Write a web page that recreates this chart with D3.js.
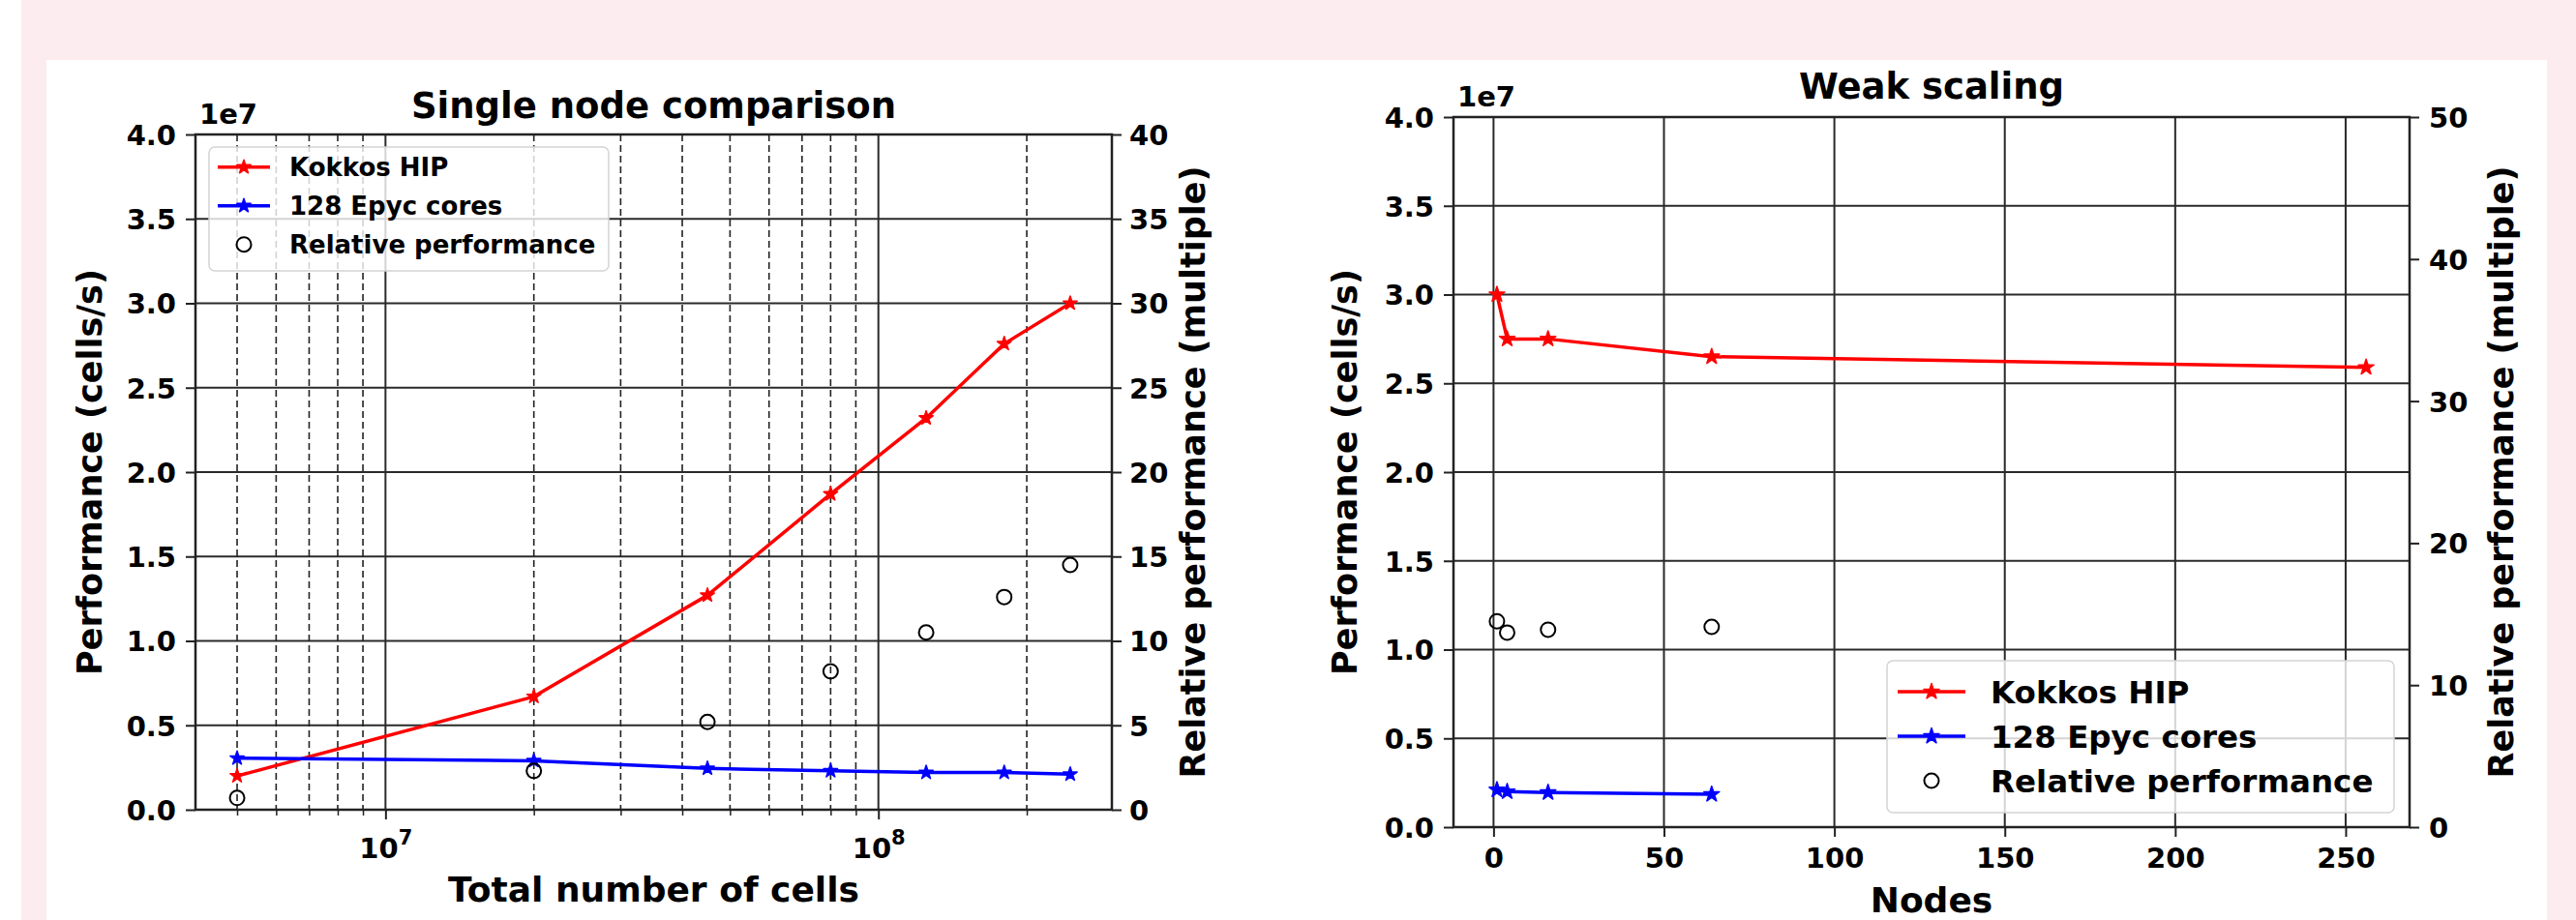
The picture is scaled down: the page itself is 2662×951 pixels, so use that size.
<!DOCTYPE html>
<html>
<head>
<meta charset="utf-8">
<title></title>
<script src="https://cdn.jsdelivr.net/npm/d3@7"></script>
<style>
body { margin: 0; background: #fcecef; }
svg { display: block; }
</style>
</head>
<body>
<script>
// single node comparison
var cells = [5e6, 2e7, 4.5e7, 8e7, 1.25e8, 1.8e8, 2.45e8];
var cellsHip = [2.0e6, 6.7e6, 1.27e7, 1.87e7, 2.32e7, 2.76e7, 3.0e7];
var cellsEpyc = [3.05e6, 2.9e6, 2.45e6, 2.3e6, 2.2e6, 2.2e6, 2.1e6];
var cellsRel = [0.7, 2.3, 5.2, 8.2, 10.5, 12.6, 14.5];

// weak scaling
var nodes = [1, 4, 16, 64, 256];
var nodesHip = [3.0e7, 2.75e7, 2.75e7, 2.65e7, 2.59e7];
var epycNodes = [1, 4, 16, 64];
var nodesEpyc = [2.1e6, 2.0e6, 1.95e6, 1.85e6];
var nodesRel = [14.5, 13.7, 13.9, 14.1];

// ticks
var perfTicks = [0, 0.5e7, 1e7, 1.5e7, 2e7, 2.5e7, 3e7, 3.5e7, 4e7];
var relTicksA = [0, 5, 10, 15, 20, 25, 30, 35, 40];
var relTicksB = [0, 10, 20, 30, 40, 50];
var nodeTicks = [0, 50, 100, 150, 200, 250];
var cellMajor = [1e7, 1e8];
var cellMinor = [2, 3, 4, 5, 6, 7, 8, 9].map(function(m) { return [m * 1e6, m * 1e7, m * 1e8]; }).flat();

var legendLabels = ['Kokkos HIP', '128 Epyc cores', 'Relative performance'];

var W = 2662, H = 951;
var FONT = 'DejaVu Sans';

var svg = d3.select('body').append('svg')
	.attr('width', W).attr('height', H)
	.attr('font-family', FONT).attr('font-weight', 'bold');

svg.append('rect').attr('width', W).attr('height', H).attr('fill', '#fcecef');
svg.append('rect').attr('width', 22).attr('height', H).attr('fill', '#ffffff');
svg.append('rect').attr('x', 48).attr('y', 62).attr('width', 2632 - 48).attr('height', H - 62).attr('fill', '#ffffff');

function zip(a, b) { return a.map(function(d, i) { return [d, b[i]]; }); }

function styleAxis(sel, size) {
	sel.attr('font-family', FONT).attr('font-size', size).attr('font-weight', 'bold');
	sel.select('.domain').remove();
	sel.selectAll('.tick line').attr('stroke', '#222').attr('stroke-width', 2);
	sel.selectAll('.tick text').attr('fill', '#000');
}

function panel(c) {
	var g = svg.append('g');
	var x = c.x, y = c.y, yR = c.yR;
	var x0 = x.range()[0], x1 = x.range()[1], yb = y.range()[0], yt = y.range()[1];

	// grid
	g.selectAll(null).data(perfTicks).enter().append('line')
		.attr('x1', x0).attr('x2', x1)
		.attr('y1', function(d) { return y(d); }).attr('y2', function(d) { return y(d); })
		.attr('stroke', '#2a2a2a').attr('stroke-width', 2);
	g.selectAll(null).data(c.xMajor).enter().append('line')
		.attr('x1', function(d) { return x(d); }).attr('x2', function(d) { return x(d); })
		.attr('y1', yt).attr('y2', yb)
		.attr('stroke', '#2a2a2a').attr('stroke-width', 2);
	if (c.xMinor) {
		g.selectAll(null).data(c.xMinor).enter().append('line')
			.attr('x1', function(d) { return x(d); }).attr('x2', function(d) { return x(d); })
			.attr('y1', yt).attr('y2', yb)
			.attr('stroke', '#222').attr('stroke-width', 1.6).attr('stroke-dasharray', '7,4');
	}

	// axes
	g.append('g').attr('transform', 'translate(' + x0 + ',0)')
		.call(d3.axisLeft(y).tickValues(perfTicks).tickSize(10).tickPadding(10)
			.tickFormat(function(d) { return (d / 1e7).toFixed(1); }))
		.call(styleAxis, 29)
		.selectAll('.tick text').attr('dy', '0.36em');
	g.append('g').attr('transform', 'translate(' + x1 + ',0)')
		.call(d3.axisRight(yR).tickValues(c.relTicks).tickSize(10).tickPadding(c.rPad))
		.call(styleAxis, 29)
		.selectAll('.tick text').attr('dy', '0.36em');

	var bx = g.append('g').attr('transform', 'translate(0,' + yb + ')')
		.call(d3.axisBottom(x).tickValues(c.xMajor).tickSize(10).tickPadding(11)
			.tickFormat(c.xFormat || d3.format('d')))
		.call(styleAxis, 29);
	if (c.xMinor) {
		g.append('g').attr('transform', 'translate(0,' + yb + ')')
			.call(d3.axisBottom(x).tickValues(c.xMinor).tickSize(6).tickFormat(''))
			.call(styleAxis, 29)
			.selectAll('.tick line').attr('stroke-width', 1.5);
	}
	if (c.powerLabels) {
		bx.selectAll('.tick text').text(null).attr('y', 50).attr('dy', null)
			.each(function(d) {
				var t = d3.select(this);
				t.append('tspan').text('10');
				t.append('tspan').attr('dy', -14).attr('font-size', 21).text(Math.round(Math.log10(d)));
			});
	}

	// spines
	g.append('rect').attr('x', x0).attr('y', yt).attr('width', x1 - x0).attr('height', yb - yt)
		.attr('fill', 'none').attr('stroke', '#222').attr('stroke-width', 2.5);

	// series
	var line = d3.line().x(function(d) { return x(d[0]); }).y(function(d) { return y(d[1]); });
	var star = d3.symbol().type(d3.symbolStar).size(c.starSize);
	[[c.hip, '#ff0000'], [c.epyc, '#0000ff']].forEach(function(s) {
		g.append('path').attr('d', line(s[0])).attr('fill', 'none')
			.attr('stroke', s[1]).attr('stroke-width', 3.5).attr('stroke-linejoin', 'round');
		g.selectAll(null).data(s[0]).enter().append('path')
			.attr('d', star)
			.attr('transform', function(d) { return 'translate(' + x(d[0]) + ',' + y(d[1]) + ')'; })
			.attr('fill', s[1]).attr('stroke', s[1]).attr('stroke-width', 1.5).attr('stroke-linejoin', 'round');
	});
	g.selectAll(null).data(c.rel).enter().append('circle')
		.attr('cx', function(d) { return x(d[0]); }).attr('cy', function(d) { return yR(d[1]); })
		.attr('r', 7.5).attr('fill', 'none').attr('stroke', '#000').attr('stroke-width', 2);

	// texts
	g.append('text').attr('x', x0 + 4).attr('y', yt - 11).attr('font-size', 29).text('1e7');
	g.append('text').attr('x', (x0 + x1) / 2).attr('y', c.titleY).attr('text-anchor', 'middle')
		.attr('font-size', 37).text(c.title);
	g.append('text').attr('x', (x0 + x1) / 2).attr('y', c.xLabelY).attr('text-anchor', 'middle')
		.attr('font-size', 36).text(c.xLabel);
	g.append('text').attr('transform', 'translate(' + c.yLabelX + ',488) rotate(-90)')
		.attr('text-anchor', 'middle').attr('font-size', 35).text('Performance (cells/s)');
	g.append('text').attr('transform', 'translate(' + c.yRLabelX + ',488) rotate(-90)')
		.attr('text-anchor', 'middle').attr('font-size', 35).text('Relative performance (multiple)');

	// legend
	var L = c.legend;
	var lg = g.append('g');
	lg.append('rect').attr('x', L.x).attr('y', L.y).attr('width', L.w).attr('height', L.h).attr('rx', 6)
		.attr('fill', '#fff').attr('fill-opacity', 0.8).attr('stroke', '#d4d4d4').attr('stroke-width', 1.5);
	legendLabels.forEach(function(lbl, i) {
		var cy = L.row0 + i * L.step;
		var hx0 = L.hx, hx1 = L.hx + L.hw, hm = (hx0 + hx1) / 2;
		if (i < 2) {
			var col = i === 0 ? '#ff0000' : '#0000ff';
			lg.append('line').attr('x1', hx0).attr('x2', hx1).attr('y1', cy).attr('y2', cy)
				.attr('stroke', col).attr('stroke-width', 3.5);
			lg.append('path').attr('d', star).attr('transform', 'translate(' + hm + ',' + cy + ')')
				.attr('fill', col).attr('stroke', col).attr('stroke-width', 1.5).attr('stroke-linejoin', 'round');
		} else {
			lg.append('circle').attr('cx', hm).attr('cy', cy).attr('r', 7.5)
				.attr('fill', 'none').attr('stroke', '#000').attr('stroke-width', 2);
		}
		lg.append('text').attr('x', L.tx).attr('y', cy + L.fs * 0.365).attr('font-size', L.fs).text(lbl);
	});
}

// left: single node comparison
var xCells = d3.scaleLog()
	.domain([Math.pow(10, 6.6145), Math.pow(10, 8.4737)])
	.range([202, 1149]);
panel({
	x: xCells,
	y: d3.scaleLinear().domain([0, 4e7]).range([837, 139]),
	yR: d3.scaleLinear().domain([0, 40]).range([837, 139]),
	relTicks: relTicksA, rPad: 8,
	xMajor: cellMajor,
	xMinor: cellMinor.filter(function(d) { var dm = xCells.domain(); return d >= dm[0] && d <= dm[1]; }),
	powerLabels: true,
	hip: zip(cells, cellsHip), epyc: zip(cells, cellsEpyc), rel: zip(cells, cellsRel),
	starSize: 64,
	title: 'Single node comparison', titleY: 121.7,
	xLabel: 'Total number of cells', xLabelY: 931.7,
	yLabelX: 105, yRLabelX: 1245,
	legend: { x: 216, y: 152, w: 413, h: 128, row0: 172.7, step: 40, hx: 225, hw: 54, tx: 299, fs: 26 }
});

// right: weak scaling
panel({
	x: d3.scaleLinear().domain([-11.75, 268.75]).range([1502, 2490]),
	y: d3.scaleLinear().domain([0, 4e7]).range([855, 121]),
	yR: d3.scaleLinear().domain([0, 50]).range([855, 121]),
	relTicks: relTicksB, rPad: 10,
	xMajor: nodeTicks,
	hip: zip(nodes, nodesHip), epyc: zip(epycNodes, nodesEpyc), rel: zip(epycNodes, nodesRel),
	starSize: 80,
	title: 'Weak scaling', titleY: 101.7,
	xLabel: 'Nodes', xLabelY: 943.3,
	yLabelX: 1402, yRLabelX: 2597,
	legend: { x: 1950, y: 683, w: 524, h: 157, row0: 715, step: 46, hx: 1961, hw: 70, tx: 2057, fs: 32.5 }
});
</script>
</body>
</html>
